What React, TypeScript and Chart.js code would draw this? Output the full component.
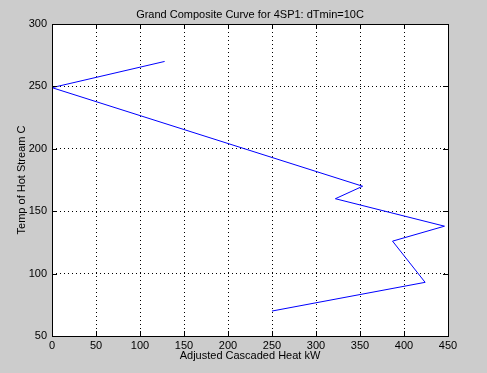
import React, { useEffect, useRef } from "react";
import { Chart, registerables } from "chart.js";
Chart.register(...registerables);

const heatKW = [128, 0, 353, 322, 446, 387, 424, 250];
const tempC = [270, 249, 170, 160, 138, 126, 93, 70];
const xTicks = [0, 50, 100, 150, 200, 250, 300, 350, 400, 450];
const yTicks = [50, 100, 150, 200, 250, 300];
const titleText = "Grand Composite Curve for 4SP1: dTmin=10C";
const xTitle = "Adjusted Cascaded Heat kW";
const yTitle = "Temp of Hot Stream C";

const FAMILY = "'Liberation Sans', Arial, sans-serif";
const FONT = "11px " + FAMILY;

const framePlugin = {
  id: "matlabFrame",
  beforeDraw(chart: any) {
    const ctx = chart.ctx;
    ctx.save();
    ctx.fillStyle = "#cccccc";
    ctx.fillRect(0, 0, chart.width, chart.height);
    const a = chart.chartArea;
    ctx.fillStyle = "#ffffff";
    ctx.fillRect(a.left, a.top, a.right - a.left, a.bottom - a.top);
    ctx.restore();
  },
  afterDraw(chart: any) {
    const ctx = chart.ctx;
    const a = chart.chartArea;
    const xs = chart.scales.x;
    const ys = chart.scales.y;
    ctx.save();
    ctx.strokeStyle = "#000";
    ctx.lineWidth = 1;
    ctx.strokeRect(Math.round(a.left) + 0.5, Math.round(a.top) + 0.5, Math.round(a.right - a.left), Math.round(a.bottom - a.top));
    ctx.beginPath();
    for (const t of xTicks) {
      const px = Math.round(xs.getPixelForValue(t)) + 0.5;
      ctx.moveTo(px, a.bottom);
      ctx.lineTo(px, a.bottom - 5);
      ctx.moveTo(px, a.top);
      ctx.lineTo(px, a.top + 5);
    }
    for (const t of yTicks) {
      const py = Math.round(ys.getPixelForValue(t)) + 0.5;
      ctx.moveTo(a.left, py);
      ctx.lineTo(a.left + 5, py);
      ctx.moveTo(a.right, py);
      ctx.lineTo(a.right - 5, py);
    }
    ctx.stroke();
    ctx.fillStyle = "#000";
    ctx.font = FONT;
    ctx.textAlign = "center";
    ctx.textBaseline = "middle";
    const cx = (a.left + a.right) / 2;
    ctx.fillText(titleText, cx, 15);
    ctx.fillText(xTitle, cx, 356);
    ctx.translate(22, (a.top + a.bottom) / 2);
    ctx.rotate(-Math.PI / 2);
    ctx.fillText(yTitle, 0, 0);
    ctx.restore();
  },
};

export default function App() {
  const ref = useRef<HTMLCanvasElement>(null);
  useEffect(() => {
    if (!ref.current) return;
    const chart = new Chart(ref.current, {
      type: "line",
      data: {
        datasets: [
          {
            data: heatKW.map((x, i) => ({ x, y: tempC[i] })),
            borderColor: "#0000ff",
            borderWidth: 1,
            pointRadius: 0,
            fill: false,
            tension: 0,
          },
        ],
      },
      options: {
        animation: false,
        responsive: false,
        devicePixelRatio: 1,
        layout: { padding: { left: 0, right: 39, top: 24, bottom: 0 } },
        plugins: { legend: { display: false }, tooltip: { enabled: false }, title: { display: false } },
        scales: {
          x: {
            type: "linear",
            min: 0,
            max: 450,
            afterFit: (s: any) => { s.height = 37; },
            afterBuildTicks: (s: any) => { s.ticks = xTicks.map((v) => ({ value: v })); },
            border: { display: false, dash: [1, 3] },
            grid: { color: "#000", lineWidth: 1, drawTicks: false },
            ticks: { color: "#000", font: { family: FAMILY, size: 11 }, padding: 3, maxRotation: 0, autoSkip: false },
          },
          y: {
            type: "linear",
            min: 50,
            max: 300,
            afterFit: (s: any) => { s.width = 52; },
            afterBuildTicks: (s: any) => { s.ticks = yTicks.map((v) => ({ value: v })); },
            border: { display: false, dash: [1, 3] },
            grid: { color: "#000", lineWidth: 1, drawTicks: false },
            ticks: { color: "#000", font: { family: FAMILY, size: 11 }, padding: 5, autoSkip: false },
          },
        },
      } as any,
      plugins: [framePlugin],
    });
    return () => chart.destroy();
  }, []);
  return (
    <div style={{ position: "fixed", left: 0, top: 0, width: 487, height: 373, background: "#cccccc" }}>
      <canvas ref={ref} width={487} height={373} />
    </div>
  );
}
